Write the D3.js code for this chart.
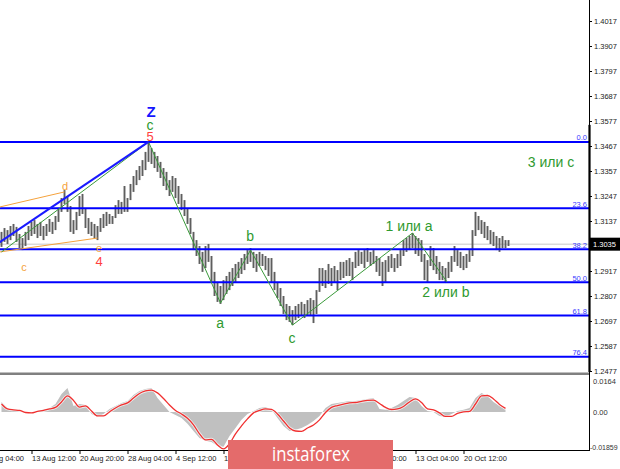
<!DOCTYPE html>
<html><head><meta charset="utf-8">
<script src="https://cdn.jsdelivr.net/npm/d3@7"></script>
<style>
body{margin:0;background:#fff;}
svg{display:block;font-family:"Liberation Sans",Arial,sans-serif;}
</style>
</head><body>
<svg id="c" width="620" height="469"></svg>
<script>
// ---------- DATA ----------
const barHigh = [
1.3089,1.3106,1.3097,1.3115,1.3124,1.3111,1.3080,1.3062,1.3089,1.3115,
1.3133,1.3141,1.3124,1.3133,1.3115,1.3124,1.3146,1.3133,1.3159,1.3194,
1.3238,1.3273,1.3247,1.3203,1.3141,1.3177,1.3247,1.3256,1.3194,1.3150,
1.3133,1.3124,1.3115,1.3150,1.3168,1.3177,1.3168,1.3159,1.3207,1.3229,
1.3221,1.3291,1.3238,1.3300,1.3335,1.3361,1.3379,1.3405,1.3441,1.3485,
1.3458,1.3441,1.3423,1.3397,1.3370,1.3353,1.3317,1.3335,1.3326,1.3291,
1.3256,1.3229,1.3194,1.3150,1.3089,1.3053,1.3027,1.3001,1.3027,1.3036,
1.2983,1.2913,1.2869,1.2851,1.2877,1.2895,1.2913,1.2930,1.2948,1.2957,
1.2974,1.2992,1.3009,1.3018,1.3001,1.2992,1.3001,1.2992,1.2983,1.2974,
1.2974,1.2913,1.2869,1.2842,1.2807,1.2772,1.2763,1.2745,1.2763,1.2772,
1.2781,1.2772,1.2789,1.2798,1.2789,1.2833,1.2930,1.2930,1.2921,1.2948,
1.2930,1.2939,1.2921,1.2957,1.2957,1.2965,1.2974,1.2957,1.3001,1.3009,
1.3001,1.3009,1.3018,1.3001,1.3009,1.2983,1.2974,1.2957,1.2965,1.2983,
1.2992,1.2974,1.2992,1.3009,1.3053,1.3062,1.3071,1.3084,1.3071,1.3062,
1.3053,1.2992,1.2965,1.3027,1.3018,1.2983,1.2957,1.2939,1.2930,1.2957,
1.2983,1.3027,1.3009,1.3001,1.2983,1.2992,1.3009,1.3097,1.3177,1.3159,
1.3141,1.3133,1.3115,1.3097,1.3089,1.3071,1.3062,1.3071,1.3053,1.3053];
const barLow = [
1.3023,1.3045,1.3036,1.3053,1.3071,1.3045,1.3018,1.3009,1.3027,1.3053,
1.3071,1.3080,1.3062,1.3071,1.3053,1.3071,1.3089,1.3080,1.3097,1.3133,
1.3177,1.3212,1.3177,1.3089,1.3080,1.3097,1.3159,1.3168,1.3106,1.3080,
1.3071,1.3062,1.3053,1.3089,1.3106,1.3115,1.3124,1.3124,1.3150,1.3168,
1.3168,1.3177,1.3177,1.3229,1.3265,1.3295,1.3317,1.3335,1.3361,1.3397,
1.3388,1.3370,1.3353,1.3326,1.3291,1.3273,1.3247,1.3265,1.3238,1.3212,
1.3185,1.3159,1.3124,1.3080,1.3009,1.2983,1.2948,1.2913,1.2930,1.2957,
1.2869,1.2807,1.2781,1.2772,1.2789,1.2816,1.2833,1.2851,1.2869,1.2886,
1.2904,1.2921,1.2948,1.2957,1.2930,1.2913,1.2939,1.2939,1.2921,1.2895,
1.2869,1.2833,1.2798,1.2763,1.2728,1.2701,1.2693,1.2679,1.2701,1.2710,
1.2719,1.2710,1.2719,1.2719,1.2688,1.2728,1.2825,1.2851,1.2842,1.2860,
1.2851,1.2869,1.2833,1.2877,1.2886,1.2895,1.2895,1.2877,1.2930,1.2939,
1.2948,1.2930,1.2957,1.2939,1.2948,1.2913,1.2895,1.2851,1.2869,1.2913,
1.2930,1.2913,1.2930,1.2939,1.2983,1.3001,1.3009,1.3018,1.2992,1.2983,
1.2957,1.2877,1.2869,1.2939,1.2921,1.2904,1.2877,1.2877,1.2864,1.2886,
1.2913,1.2957,1.2939,1.2930,1.2921,1.2930,1.2957,1.2983,1.3071,1.3097,
1.3080,1.3062,1.3053,1.3036,1.3027,1.3009,1.3001,1.3018,1.3018,1.3027];
const lastPrice = 1.3035;
const priceTicks = [1.4017,1.3907,1.3797,1.3687,1.3577,1.3467,1.3357,1.3247,1.3137,1.2917,1.2807,1.2697,1.2587,1.2477];
const fibLevels = ["0.0","23.6","38.2","50.0","61.8","76.4"];
const fibPrices = [1.3485,1.3193,1.3013,1.2867,1.2721,1.2540];

const macdMain = [
0.0053,0.0021,0.0011,0.0005,-0.0005,-0.0005,0.0005,0.0013,0.0021,0.0042,
0.0095,0.0127,0.0032,0.0042,0.0037,-0.0011,-0.0026,-0.0011,0.0016,0.0032,
0.0048,0.0058,0.0090,0.0111,0.0122,0.0127,0.0074,0.0037,0.0000,-0.0016,
-0.0032,-0.0063,-0.0101,-0.0138,-0.0153,-0.0159,-0.0180,-0.0185,-0.0127,-0.0085,
-0.0042,-0.0011,0.0005,0.0021,0.0026,0.0011,-0.0032,-0.0074,-0.0101,-0.0095,
-0.0085,-0.0069,-0.0048,-0.0021,0.0021,0.0042,0.0048,0.0053,0.0058,0.0058,
0.0063,0.0069,0.0074,0.0016,0.0011,0.0021,0.0037,0.0058,0.0079,0.0074,
0.0032,0.0005,0.0000,-0.0021,-0.0026,-0.0011,0.0005,0.0011,0.0021,0.0074,
0.0101,0.0085,0.0053,0.0032,0.0011];
const macdSignal = [
0.0042,0.0016,0.0011,0.0008,-0.0003,-0.0005,0.0003,0.0008,0.0016,0.0024,
0.0053,0.0085,0.0061,0.0026,0.0032,0.0005,-0.0021,-0.0021,0.0000,0.0021,
0.0037,0.0048,0.0074,0.0098,0.0111,0.0116,0.0101,0.0071,0.0037,0.0008,
-0.0011,-0.0034,-0.0069,-0.0116,-0.0148,-0.0145,-0.0175,-0.0196,-0.0169,-0.0116,
-0.0074,-0.0037,-0.0005,0.0008,0.0016,0.0013,-0.0011,-0.0048,-0.0085,-0.0101,
-0.0103,-0.0085,-0.0069,-0.0042,-0.0003,0.0024,0.0034,0.0042,0.0048,0.0050,
0.0056,0.0061,0.0063,0.0045,0.0024,0.0013,0.0016,0.0029,0.0053,0.0069,
0.0050,0.0016,0.0011,-0.0005,-0.0024,-0.0024,-0.0008,0.0000,0.0003,0.0042,
0.0085,0.0087,0.0069,0.0040,0.0019];
const macdTicks = [0.0164, 0, -0.01859];
const macdTickLabels = ["0.0164","0.00","-0.01859"];

const timeIndex = [-11,21,53,85,117,149,181,213,245,277,309];
const timeLabels = ["6 Aug 04:00","13 Aug 12:00","20 Aug 20:00","28 Aug 04:00","4 Sep 12:00","11 Sep 20:00","21 Sep 04:00","28 Sep 12:00","5 Oct 20:00","13 Oct 04:00","20 Oct 12:00"];

// wave lines: [H4 bar index, price]
const waveZ = [[-1,1.3040],[99,1.3485]];
const waveGreen = [[1,1.3001],[99,1.3485],[147,1.2776],[167,1.3009],[195,1.2679],[275,1.3084],[298,1.2869]];
const orangeUpper = [[0,1.3199],[43,1.3265]];
const orangeLower = [[0,1.3001],[65,1.3062]];

// wave labels: [H4 bar index, price, text, kind]
const waveLabels = [
 [100.7,1.3616,"Z","blue"],
 [100,1.3557,"c","green"],
 [100,1.3507,"5","red"],
 [43.3,1.3291,"d","orange"],
 [16,1.2935,"c","orange"],
 [66,1.3018,"e","orange"],
 [66,1.2957,"4","red"],
 [166.7,1.3071,"b","green"],
 [146.7,1.2688,"a","green"],
 [194.7,1.2622,"c","green"],
 [272.7,1.3115,"1 или а","greenBig"],
 [297.3,1.2825,"2 или b","greenBig"],
 [367.3,1.3397,"3 или с","greenBig"]
];

// ---------- DRAW ----------
const svg = d3.select("#c");
const AX = 589;
const x = d3.scaleLinear().domain([0,340]).range([0,510]);
const y = d3.scaleLinear().domain([1.2477,1.4017]).range([371,21]);
const yi = d3.scaleLinear().domain([-0.01859,0.0164]).range([447,381]);

svg.append("rect").attr("width",620).attr("height",469).attr("fill","#fff");

const defs = svg.append("defs");
defs.append("clipPath").attr("id","cm").append("rect").attr("x",0).attr("y",0).attr("width",AX).attr("height",372);
defs.append("clipPath").attr("id","ci").append("rect").attr("x",0).attr("y",376).attr("width",AX).attr("height",74);

const main = svg.append("g").attr("clip-path","url(#cm)");

// current price line
main.append("line").attr("x1",0).attr("x2",AX).attr("y1",y(lastPrice)).attr("y2",y(lastPrice))
  .attr("stroke","#c8c8c8").attr("stroke-width",1);

// bars
main.append("g").selectAll("line").data(barHigh).join("line")
  .attr("x1",(d,i)=>x(2*i+1)).attr("x2",(d,i)=>x(2*i+1))
  .attr("y1",d=>y(d)).attr("y2",(d,i)=>y(barLow[i]))
  .attr("stroke","#5e5e5e").attr("stroke-width",1.9);

// fib lines
main.append("g").selectAll("line").data(fibPrices).join("line")
  .attr("x1",0).attr("x2",AX).attr("y1",d=>y(d)).attr("y2",d=>y(d))
  .attr("stroke","#0000ff").attr("stroke-width",2);
main.append("g").selectAll("text").data(fibPrices).join("text")
  .attr("x",AX-2).attr("y",d=>y(d)-1.5).attr("text-anchor","end")
  .attr("font-size",7.5).attr("fill","#3a3aff").text((d,i)=>fibLevels[i]);

const ln = d3.line().x(d=>x(d[0])).y(d=>y(d[1]));
main.append("path").attr("d",ln(orangeUpper)).attr("fill","none").attr("stroke","#f5a23c").attr("stroke-width",1);
main.append("path").attr("d",ln(orangeLower)).attr("fill","none").attr("stroke","#f5a23c").attr("stroke-width",1);
main.append("path").attr("d",ln(waveGreen)).attr("fill","none").attr("stroke","#3a9a3a").attr("stroke-width",1);
main.append("path").attr("d",ln(waveZ)).attr("fill","none").attr("stroke","#1a1aff").attr("stroke-width",2.2);

const lblStyle = {
  blue:{c:"#1515ff",s:15,w:"bold"},
  green:{c:"#2f9a2f",s:14,w:"normal"},
  red:{c:"#ff4040",s:13,w:"normal"},
  orange:{c:"#f5a23c",s:11,w:"normal"},
  greenBig:{c:"#2f9a2f",s:14,w:"normal"}
};
main.append("g").selectAll("text").data(waveLabels).join("text")
  .attr("x",d=>x(d[0])).attr("y",d=>y(d[1])).attr("dy","0.35em")
  .attr("text-anchor","middle")
  .attr("font-size",d=>lblStyle[d[3]].s).attr("font-weight",d=>lblStyle[d[3]].w)
  .attr("fill",d=>lblStyle[d[3]].c).text(d=>d[2]);

// price axis
const pAxis = d3.axisRight(y).tickValues(priceTicks).tickSize(3).tickPadding(2).tickFormat(d3.format(".4f"));
const pg = svg.append("g").attr("transform",`translate(${AX},0)`).call(pAxis);
pg.select(".domain").remove();
pg.selectAll("line").attr("stroke","#000");
pg.selectAll("text").attr("font-size",7.5).attr("fill","#222").attr("font-family","Liberation Sans, Arial, sans-serif");

// axis lines
svg.append("line").attr("x1",AX+0.5).attr("x2",AX+0.5).attr("y1",0).attr("y2",450).attr("stroke","#000").attr("stroke-width",1);
svg.append("line").attr("x1",AX+0.5).attr("x2",AX+0.5).attr("y1",y(1.3560)).attr("y2",372).attr("stroke","#000").attr("stroke-width",2.2);

// current price box
svg.append("rect").attr("x",AX).attr("y",y(lastPrice)-6.5).attr("width",31).attr("height",13).attr("fill","#000");
svg.append("text").attr("x",AX+4).attr("y",y(lastPrice)).attr("dy","0.35em").attr("font-size",7.5).attr("fill","#fff").text(d3.format(".4f")(lastPrice));

// separator
svg.append("rect").attr("x",0).attr("y",372.5).attr("width",AX).attr("height",2.5).attr("fill","#808080");

// indicator
const ind = svg.append("g").attr("clip-path","url(#ci)");
const area = d3.area().x((d,j)=>x(1+4*j)).y0(yi(0)).y1(d=>yi(d));
ind.append("path").attr("d",area(macdMain)).attr("fill","#c0c0c0");
const sl = d3.line().x((d,j)=>x(1+4*j)).y(d=>yi(d)).curve(d3.curveMonotoneX);
ind.append("path").attr("d",sl(macdSignal)).attr("fill","none").attr("stroke","#ffffff").attr("stroke-width",3).attr("opacity",0.7);
ind.append("path").attr("d",sl(macdSignal)).attr("fill","none").attr("stroke","#f03030").attr("stroke-width",1.3);

const iAxis = d3.axisRight(yi).tickValues(macdTicks).tickSize(0).tickPadding(4).tickFormat((d,i)=>macdTickLabels[i]);
const ig = svg.append("g").attr("transform",`translate(${AX},0)`).call(iAxis);
ig.select(".domain").remove();
ig.selectAll("text").attr("font-size",7.5).attr("fill","#333").attr("font-family","Liberation Sans, Arial, sans-serif");
ig.selectAll("text").filter(d=>d<0).attr("x",1).attr("font-size",7);

// time axis
svg.append("line").attr("x1",0).attr("x2",AX+1).attr("y1",450.5).attr("y2",450.5).attr("stroke","#000");
const tAxis = d3.axisBottom(x).tickValues(timeIndex).tickSize(4).tickPadding(2).tickFormat((d,i)=>timeLabels[i]);
const tg = svg.append("g").attr("transform","translate(0,450)").call(tAxis);
tg.select(".domain").remove();
tg.selectAll("line").attr("stroke","#000");
tg.selectAll("text").attr("font-size",7.5).attr("fill","#222").attr("text-anchor","start").attr("font-family","Liberation Sans, Arial, sans-serif");

// watermark
svg.append("rect").attr("x",228).attr("y",440).attr("width",165).attr("height",30).attr("fill","#e46b6b");
svg.append("text").attr("x",272).attr("y",461).attr("font-size",20).attr("fill","#fff")
  .attr("font-family","'Open Sans',Roboto,sans-serif").attr("textLength",78).attr("lengthAdjust","spacingAndGlyphs").text("instaforex");
</script>
</body></html>
